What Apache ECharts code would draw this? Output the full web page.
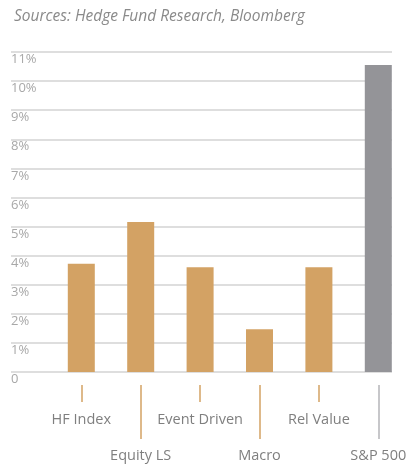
<!DOCTYPE html>
<html>
<head>
<meta charset="utf-8">
<script src="https://cdn.jsdelivr.net/npm/echarts@6/dist/echarts.min.js"></script>
<style>
  html, body { margin: 0; padding: 0; background: #fff; }
  #chart { width: 410px; height: 466px; }
</style>
</head>
<body>
<div id="chart"></div>
<script>
// Annualised returns by strategy vs. the S&P 500
const categories = ['HF Index', 'Equity LS', 'Event Driven', 'Macro', 'Rel Value', 'S&P 500'];
const returns = [3.72, 5.16, 3.6, 1.47, 3.6, 10.55];
const barColors = ['#d3a264', '#d3a264', '#d3a264', '#d3a264', '#d3a264', '#949498'];
const yTicks = [0, 1, 2, 3, 4, 5, 6, 7, 8, 9, 10, 11];

const FONT = '"Open Sans", "Noto Sans", sans-serif';
const chart = echarts.init(document.getElementById('chart'), null, { renderer: 'canvas' });

const gridTop = 52, gridBottom = 94;

// Category axes used only for their ticks and labels (staggered rows)
function tickAxis(showIdx, labelIdx, len, color, margin) {
  return {
    type: 'category',
    gridIndex: 1,
    position: 'bottom',
    offset: 13,
    data: categories,
    axisLine: { show: false, onZero: false },
    axisTick: {
      show: true, alignWithLabel: true, length: len,
      interval: (i) => showIdx.includes(i),
      lineStyle: { color: color, width: 1.5 }
    },
    axisLabel: {
      show: labelIdx.length > 0,
      interval: (i) => labelIdx.includes(i),
      margin: margin,
      color: '#7f7f7f', fontSize: 14.5, fontFamily: FONT
    }
  };
}

chart.setOption({
  animation: false,
  title: {
    text: 'Sources: Hedge Fund Research, Bloomberg',
    left: 9, top: 4,
    textStyle: { color: '#8a8a8a', fontSize: 15.5, fontStyle: 'italic', fontWeight: 'normal', fontFamily: FONT }
  },
  grid: [
    { left: 11, right: 18, top: gridTop, bottom: gridBottom },
    { left: 51.6, right: 2, top: gridTop, bottom: gridBottom }
  ],
  xAxis: [
    tickAxis([0, 2, 4], [0, 2, 4], 17, '#d3a264', 27),
    { type: 'value', gridIndex: 0, show: false, min: 0, max: 1 },
    tickAxis([1, 3], [1, 3, 5], 54, '#d3a264', 63),
    tickAxis([5], [], 54, '#b5b5b8', 63)
  ],
  yAxis: [
    {
      type: 'value', gridIndex: 0, min: 0, max: 11, interval: 1,
      axisLine: { show: false }, axisTick: { show: false },
      splitLine: { show: true, lineStyle: { color: '#dedede', width: 2 } },
      axisLabel: {
        inside: true, margin: 0, verticalAlign: 'top', padding: [1, 0, 0, 0],
        color: '#a8a8a8', fontSize: 13, fontFamily: FONT,
        formatter: (v) => (v === 0 ? '0' : v + '%')
      }
    },
    { type: 'value', gridIndex: 1, min: 0, max: 11, interval: 1, show: false }
  ],
  series: [{
    type: 'bar',
    xAxisIndex: 0, yAxisIndex: 1,
    barWidth: 27,
    data: returns.map((v, i) => ({ value: v, itemStyle: { color: barColors[i] } }))
  }]
});
</script>
</body>
</html>
